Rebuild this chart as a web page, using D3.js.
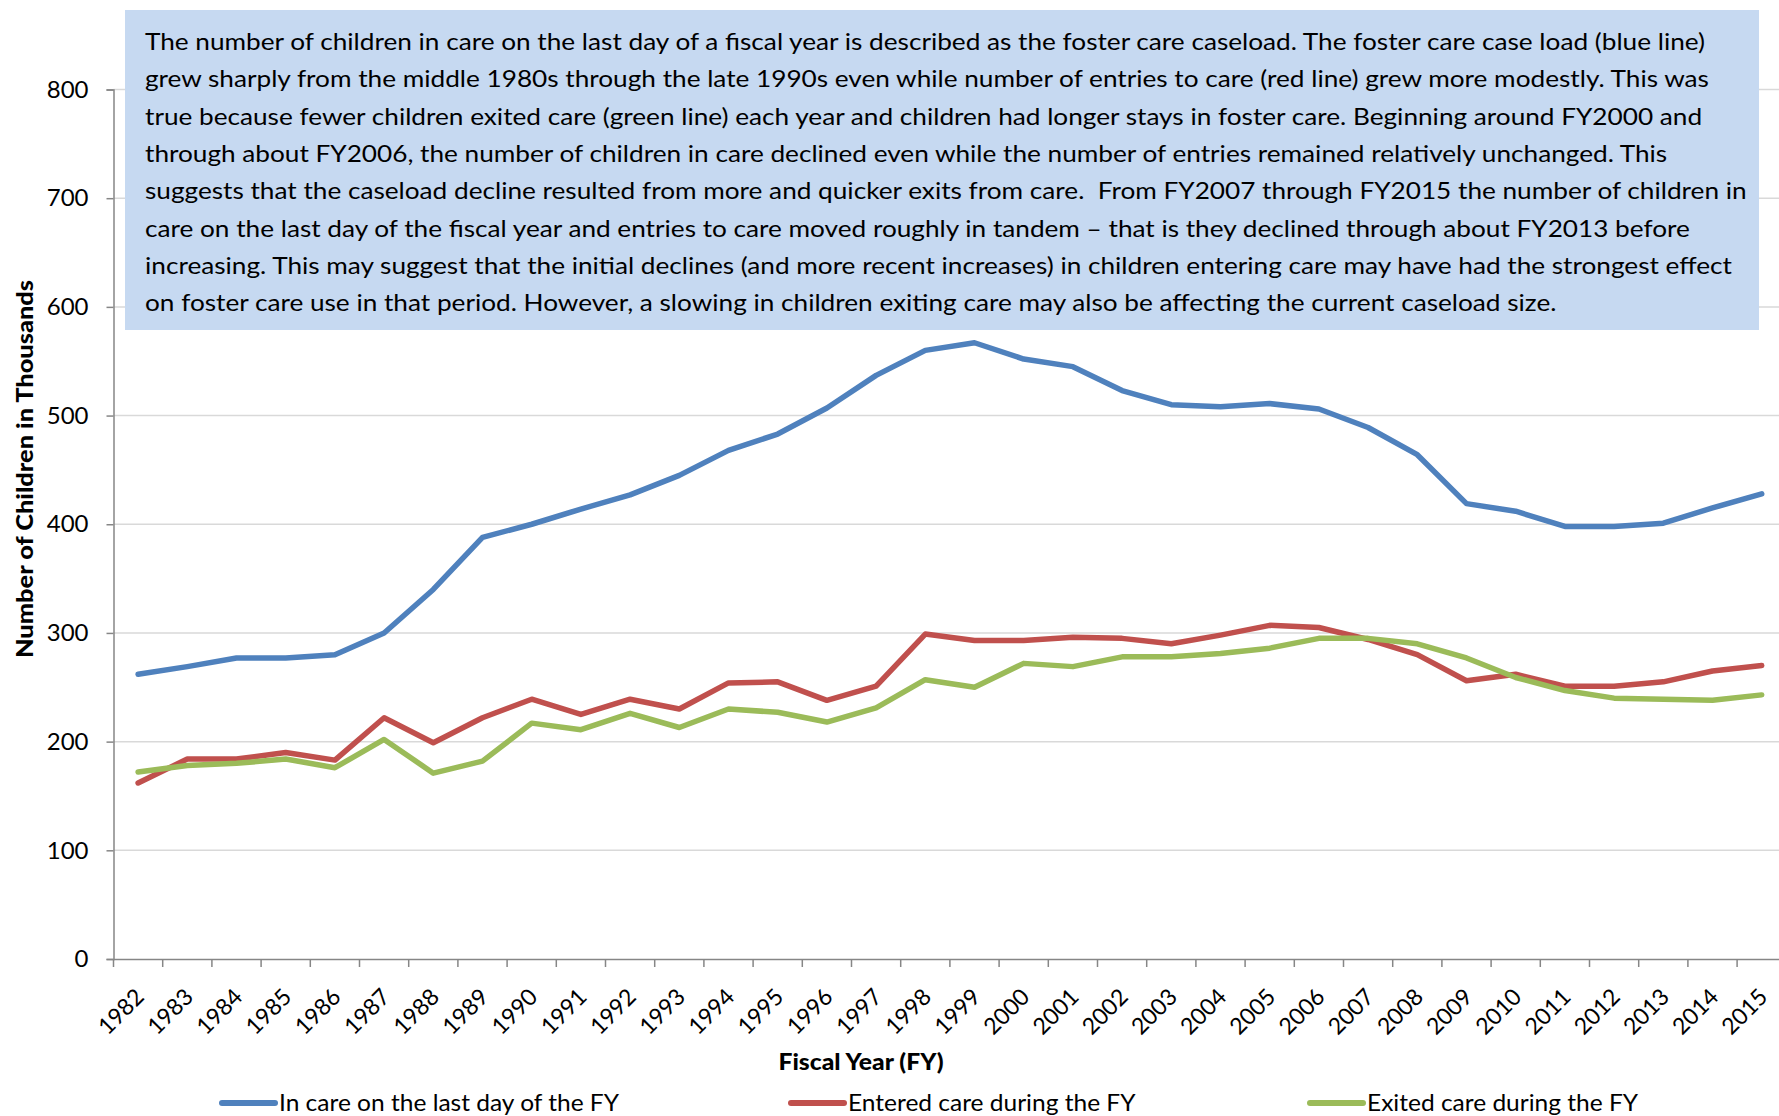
<!DOCTYPE html>
<html>
<head>
<meta charset="utf-8">
<script src="https://cdn.jsdelivr.net/npm/d3@7"></script>
<style>
  body { margin: 0; background: #fff; }
  text { font-family: Lato, "Open Sans", sans-serif; fill: #000; }
</style>
</head>
<body>
<script>
// chart data (thousands of children)
var years = [1982, 1983, 1984, 1985, 1986, 1987, 1988, 1989, 1990, 1991, 1992, 1993,
  1994, 1995, 1996, 1997, 1998, 1999, 2000, 2001, 2002, 2003, 2004, 2005, 2006,
  2007, 2008, 2009, 2010, 2011, 2012, 2013, 2014, 2015];
var inCare = [262, 269, 277, 277, 280, 300, 340, 388, 400, 414, 427, 445, 468, 483,
  507, 537, 560, 567, 552, 545, 523, 510, 508, 511, 506, 489, 464, 419, 412, 398,
  398, 401, 415, 428];
var entered = [162, 184, 184, 190, 183, 222, 199, 222, 239, 225, 239, 230, 254, 255,
  238, 251, 299, 293, 293, 296, 295, 290, 298, 307, 305, 294, 280, 256, 262, 251,
  251, 255, 265, 270];
var exited = [172, 178, 180, 184, 176, 202, 171, 182, 217, 211, 226, 213, 230, 227,
  218, 231, 257, 250, 272, 269, 278, 278, 281, 286, 295, 295, 290, 277, 259, 247,
  240, 239, 238, 243];
var yTicks = [0, 100, 200, 300, 400, 500, 600, 700, 800];
var seriesNames = ["In care on the last day of the FY", "Entered care during the FY", "Exited care during the FY"];
var colors = ["#4f81bd", "#c0504d", "#9bbb59"];
var noteLines = [
  "The number of children in care on the last day of a fiscal year is described as the foster care caseload. The foster care case load (blue line)",
  "grew sharply from the middle 1980s through the late 1990s even while number of entries to care (red line) grew more modestly. This was",
  "true because fewer children exited care (green line) each year and children had longer stays in foster care. Beginning around FY2000 and",
  "through about FY2006, the number of children in care declined even while the number of entries remained relatively unchanged. This",
  "suggests that the caseload decline resulted from more and quicker exits from care.  From FY2007 through FY2015 the number of children in",
  "care on the last day of the fiscal year and entries to care moved roughly in tandem \u2013 that is they declined through about FY2013 before",
  "increasing. This may suggest that the initial declines (and more recent increases) in children entering care may have had the strongest effect",
  "on foster care use in that period. However, a slowing in children exiting care may also be affecting the current caseload size."
];

var width = 1779;
var height = 1116;
var pLeft = 113.5;
var bandW = 49.2;
var pBottom = 959;
var pTop = 89.5;

var svg = d3
  .select("body")
  .append("svg")
  .attr("width", width)
  .attr("height", height);

var xScale = d3
  .scaleBand()
  .domain(years)
  .range([pLeft, pLeft + bandW * years.length]);
var yScale = d3
  .scaleLinear()
  .domain([0, 800])
  .range([pBottom, pTop]);

//gridlines
svg
  .append("g")
  .selectAll("line")
  .data(yTicks.slice(1))
  .enter()
  .append("line")
  .attr("x1", pLeft)
  .attr("x2", width)
  .attr("y1", function(d) { return yScale(d); })
  .attr("y2", function(d) { return yScale(d); })
  .attr("stroke", "#d9d9d9")
  .attr("stroke-width", 1.5);

//y axis
var yAxis = svg
  .append("g")
  .attr("transform", "translate(" + pLeft + ",0)")
  .call(d3.axisLeft(yScale).tickValues(yTicks).tickSize(7).tickPadding(18));
yAxis.select(".domain").attr("stroke", "#868686").attr("stroke-width", 1.5);
yAxis.selectAll(".tick line").attr("stroke", "#868686").attr("stroke-width", 1.5);
yAxis.selectAll(".tick text")
  .attr("font-size", 24)
  .attr("font-family", "Lato, 'Open Sans', sans-serif")
  .attr("fill", "#000");

//x axis
var xAxis = svg
  .append("g")
  .attr("transform", "translate(0," + pBottom + ")")
  .call(d3.axisBottom(xScale).tickSize(0).tickFormat(""));
xAxis.select(".domain").attr("stroke", "#868686").attr("stroke-width", 1.5);
svg
  .append("g")
  .selectAll("line")
  .data(years)
  .enter()
  .append("line")
  .attr("x1", function(d) { return xScale(d); })
  .attr("x2", function(d) { return xScale(d); })
  .attr("y1", pBottom)
  .attr("y2", pBottom + 8)
  .attr("stroke", "#868686")
  .attr("stroke-width", 1.5);
svg
  .append("g")
  .selectAll("text")
  .data(years)
  .enter()
  .append("text")
  .attr("transform", function(d) {
    return "translate(" + (xScale(d) + xScale.bandwidth() / 2 + 1) + "," + (pBottom + 33) + ") rotate(-45)";
  })
  .attr("text-anchor", "end")
  .attr("dominant-baseline", "central")
  .attr("font-size", 23)
  .text(function(d) { return d; });

//note box
svg
  .append("rect")
  .attr("x", 125)
  .attr("y", 10)
  .attr("width", 1634)
  .attr("height", 320)
  .attr("fill", "#c6d9f1");
var note = svg
  .append("g")
  .selectAll("text")
  .data(noteLines)
  .enter()
  .append("text")
  .attr("x", 145)
  .attr("y", function(d, i) { return 50 + i * 37.3; })
  .attr("font-size", 23)
  .attr("xml:space", "preserve")
  .style("white-space", "pre")
  .text(function(d) { return d; });
var k = 1560 / note.node().getComputedTextLength();
note.each(function() {
  var n = this.getComputedTextLength();
  d3.select(this).attr("textLength", n * k).attr("lengthAdjust", "spacingAndGlyphs");
});

//lines
var line = d3
  .line()
  .x(function(d, i) { return xScale(years[i]) + xScale.bandwidth() / 2; })
  .y(function(d) { return yScale(d); });
var allSeries = [inCare, entered, exited];
svg
  .append("g")
  .selectAll("path")
  .data(allSeries)
  .enter()
  .append("path")
  .attr("d", line)
  .attr("fill", "none")
  .attr("stroke", function(d, i) { return colors[i]; })
  .attr("stroke-width", 5.5)
  .attr("stroke-linejoin", "round")
  .attr("stroke-linecap", "round");

//axis titles
var yTitle = svg
  .append("text")
  .attr("transform", "translate(24,469) rotate(-90)")
  .attr("text-anchor", "middle")
  .attr("dominant-baseline", "central")
  .attr("font-size", 22)
  .attr("font-weight", 900)
  .text("Number of Children in Thousands");
yTitle.attr("textLength", 378).attr("lengthAdjust", "spacingAndGlyphs");
var xTitle = svg
  .append("text")
  .attr("x", 861)
  .attr("y", 1070)
  .attr("text-anchor", "middle")
  .attr("font-size", 22)
  .attr("font-weight", 900)
  .text("Fiscal Year (FY)");
xTitle.attr("textLength", 165).attr("lengthAdjust", "spacingAndGlyphs");

//legend
var legX = [222, 791, 1310];
var leg = svg
  .append("g")
  .selectAll("g")
  .data(seriesNames)
  .enter()
  .append("g")
  .attr("transform", function(d, i) { return "translate(" + legX[i] + ",1103)"; });
leg
  .append("line")
  .attr("x1", 0)
  .attr("x2", 53)
  .attr("stroke", function(d, i) { return colors[i]; })
  .attr("stroke-width", 6)
  .attr("stroke-linecap", "round");
var legText = leg
  .append("text")
  .attr("x", 57)
  .attr("y", 8)
  .attr("font-size", 23)
  .text(function(d) { return d; });
var lk = 340 / legText.node().getComputedTextLength();
legText.each(function() {
  var n = this.getComputedTextLength();
  d3.select(this).attr("textLength", n * lk).attr("lengthAdjust", "spacingAndGlyphs");
});
</script>
</body>
</html>
